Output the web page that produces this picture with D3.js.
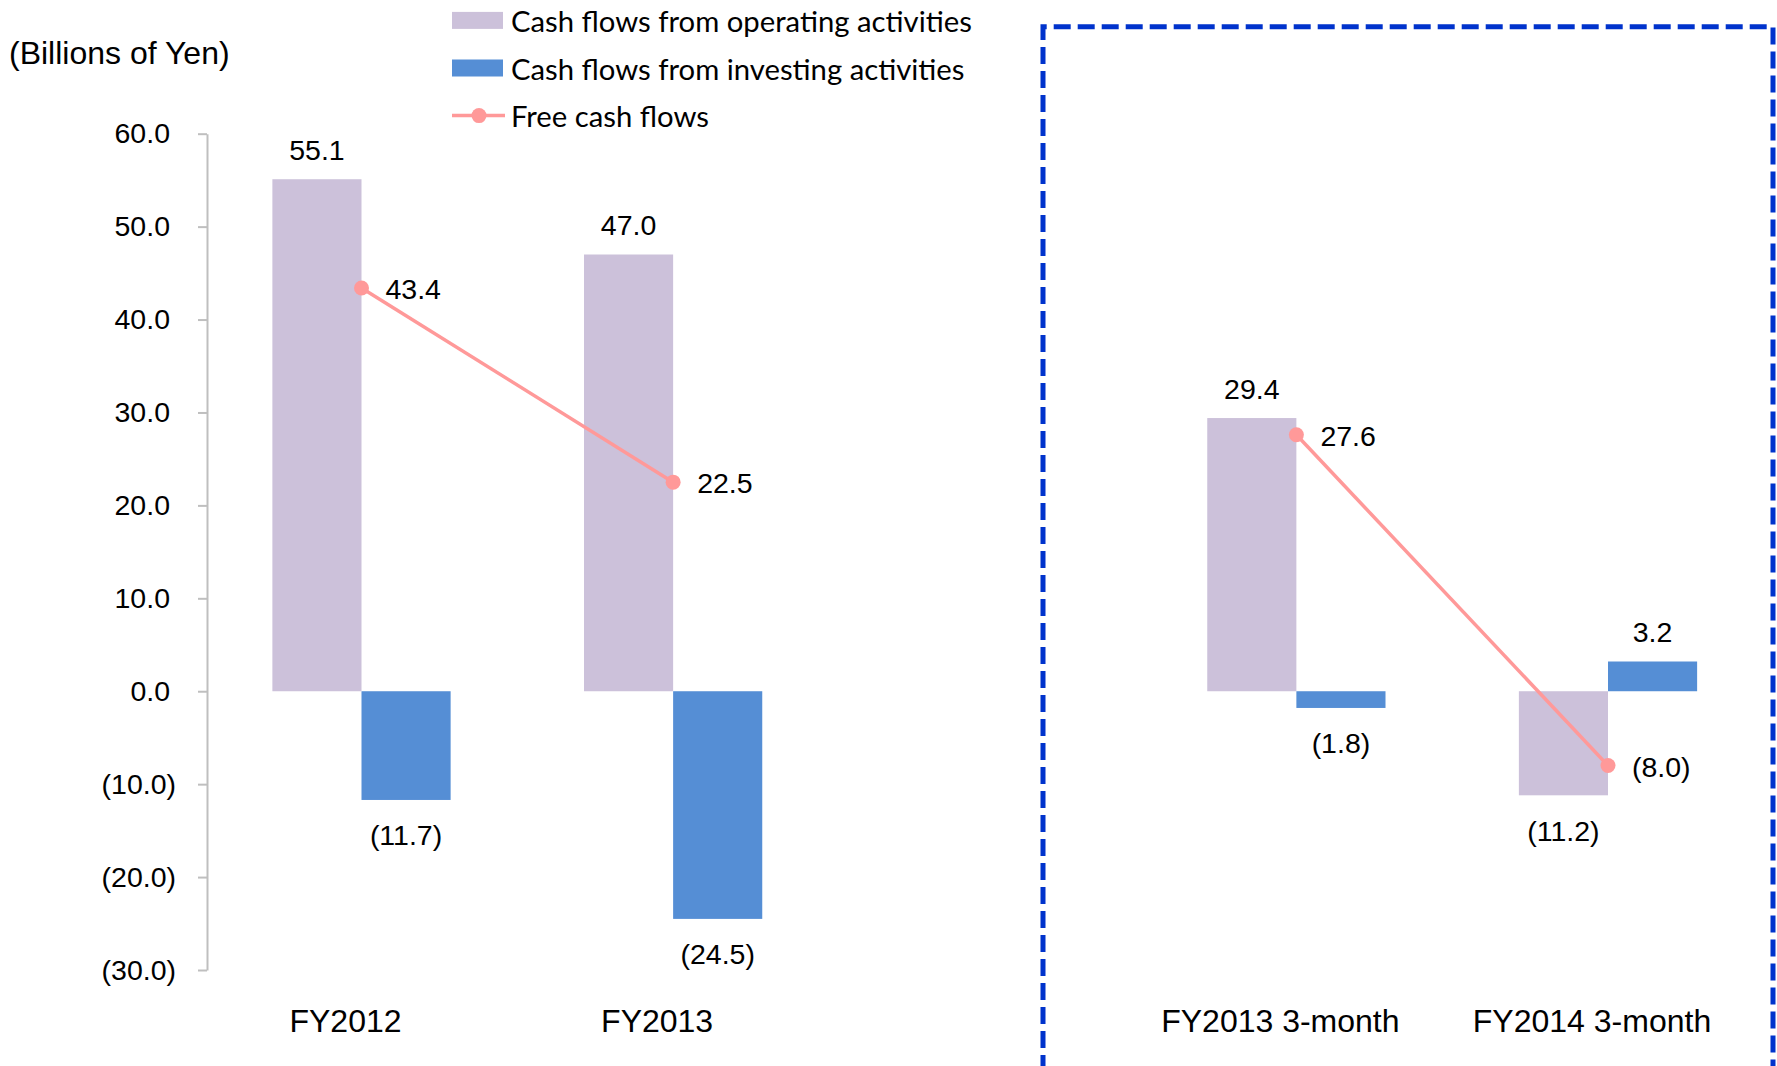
<!DOCTYPE html>
<html>
<head>
<meta charset="utf-8">
<script src="https://cdn.jsdelivr.net/npm/d3@7"></script>
<style>
  html, body { margin: 0; padding: 0; background: #fff; }
  svg { display: block; }
  text { font-family: "Liberation Sans", Arial, sans-serif; fill: #000; }
  .legend text { font-family: Lato, "Open Sans", sans-serif; }
</style>
</head>
<body>
<svg id="chart" width="1777" height="1066"></svg>
<script>
// Cash flow summary (billions of yen)
const categories = ["FY2012", "FY2013", "FY2013 3-month", "FY2014 3-month"];
const periods    = ["annual", "annual", "quarter", "quarter"];
const operating  = [55.1, 47.0, 29.4, -11.2];
const investing  = [-11.7, -24.5, -1.8, 3.2];
const freeCash   = [43.4, 22.5, 27.6, -8.0];
const yTicks     = [-30, -20, -10, 0, 10, 20, 30, 40, 50, 60];
const seriesNames = [
  "Cash flows from operating activities",
  "Cash flows from investing activities",
  "Free cash flows"
];
const unitLabel = "(Billions of Yen)";

const colors = { operating: "#CCC1DA", investing: "#558ED5", free: "#FF9999", frame: "#0033CC" };

const svg = d3.select("#chart");

// a blank slot separates the annual and 3-month groups
const slots = [categories[0], categories[1], "__gap__", categories[2], categories[3]];
const x = d3.scalePoint().domain(slots).range([361.5, 1608]);
const barW = x.step() * 0.286;
const y = d3.scaleLinear().domain([-30, 60]).range([970, 133.7]);

const fmt = v => v < 0 ? `(${Math.abs(v).toFixed(1)})` : v.toFixed(1);

// y axis
const axisX = 207;
const yAxis = svg.append("g")
  .attr("transform", `translate(${axisX},0)`)
  .call(d3.axisLeft(y).tickValues(yTicks).tickFormat(fmt).tickSize(9).tickSizeOuter(0).tickPadding(22));
yAxis.select(".domain").attr("stroke", "#BFBFBF").attr("stroke-width", 2);
yAxis.selectAll(".tick line").attr("stroke", "#BFBFBF").attr("stroke-width", 2);
yAxis.selectAll(".tick text")
  .attr("font-family", "'Liberation Sans', Arial, sans-serif")
  .attr("font-size", 28.5)
  .attr("fill", "#000")
  .attr("dx", d => d < 0 ? 0 : -6);

// unit title
svg.append("text")
  .attr("x", 9).attr("y", 53)
  .attr("dominant-baseline", "central")
  .attr("font-size", 32)
  .text(unitLabel);

const rows = categories.map((c, i) => ({
  c, period: periods[i], op: operating[i], inv: investing[i], free: freeCash[i]
}));

// operating bars (left of the category centre)
svg.append("g").selectAll("rect").data(rows).join("rect")
  .attr("x", d => x(d.c) - barW)
  .attr("width", barW)
  .attr("y", d => y(Math.max(0, d.op)))
  .attr("height", d => Math.abs(y(d.op) - y(0)))
  .attr("fill", colors.operating);

// investing bars (right of the category centre)
svg.append("g").selectAll("rect").data(rows).join("rect")
  .attr("x", d => x(d.c))
  .attr("width", barW)
  .attr("y", d => y(Math.max(0, d.inv)))
  .attr("height", d => Math.abs(y(d.inv) - y(0)))
  .attr("fill", colors.investing);

// bar value labels
const barLabel = (g, key, dxFn) => g.selectAll("text").data(rows).join("text")
  .attr("x", d => x(d.c) + dxFn())
  .attr("y", d => d[key] >= 0 ? y(d[key]) - 29.5 : y(d[key]) + 35.5)
  .attr("text-anchor", "middle")
  .attr("dominant-baseline", "central")
  .attr("font-size", 28.5)
  .text(d => fmt(d[key]));
barLabel(svg.append("g"), "op", () => -barW / 2);
barLabel(svg.append("g"), "inv", () => barW / 2);

// free cash flow line, one segment per period
const line = d3.line().x(d => x(d.c)).y(d => y(d.free));
const lineGroups = d3.groups(rows, d => d.period);
svg.append("g").selectAll("path").data(lineGroups).join("path")
  .attr("d", d => line(d[1]))
  .attr("fill", "none")
  .attr("stroke", colors.free)
  .attr("stroke-width", 3.5);
svg.append("g").selectAll("circle").data(rows).join("circle")
  .attr("cx", d => x(d.c))
  .attr("cy", d => y(d.free))
  .attr("r", 7.5)
  .attr("fill", colors.free);
svg.append("g").selectAll("text").data(rows).join("text")
  .attr("x", d => x(d.c) + 24)
  .attr("y", d => y(d.free) + 1)
  .attr("dominant-baseline", "central")
  .attr("font-size", 28.5)
  .text(d => fmt(d.free));

// category labels
svg.append("g").selectAll("text").data(rows).join("text")
  .attr("x", d => x(d.c) - 16)
  .attr("y", 1021)
  .attr("text-anchor", "middle")
  .attr("dominant-baseline", "central")
  .attr("font-size", 32)
  .text(d => d.c);

// dashed frame around the 3-month results
const fx0 = 1043, fx1 = 1773, fy0 = 26.7, fy1 = 1120;
svg.append("path")
  .attr("d", `M${fx0},${fy1} L${fx0},${fy0} L${fx1},${fy0} L${fx1},${fy1}`)
  .attr("fill", "none")
  .attr("stroke", colors.frame)
  .attr("stroke-width", 5)
  .attr("stroke-dasharray", "17,7");

// legend
const legend = svg.append("g").attr("class", "legend");
const legendY = [20.4, 68, 115.6];
const legendKinds = ["operating", "investing", "free"];
legendKinds.forEach((k, i) => {
  const ly = legendY[i];
  if (k === "free") {
    legend.append("line").attr("x1", 452).attr("x2", 505).attr("y1", ly).attr("y2", ly)
      .attr("stroke", colors.free).attr("stroke-width", 3.5);
    legend.append("circle").attr("cx", 479).attr("cy", ly).attr("r", 7.5).attr("fill", colors.free);
  } else {
    legend.append("rect").attr("x", 452).attr("y", ly - 8.5).attr("width", 51).attr("height", 17)
      .attr("fill", colors[k]);
  }
  legend.append("text")
    .attr("x", 511).attr("y", ly)
    .attr("dominant-baseline", "central")
    .attr("font-size", 26)
    .text(seriesNames[i]);
});
// size legend type so the longest entry spans its measured width
const first = legend.select("text").node();
const w = first.getComputedTextLength();
legend.selectAll("text").attr("font-size", 26 * 461 / w);
</script>
</body>
</html>
